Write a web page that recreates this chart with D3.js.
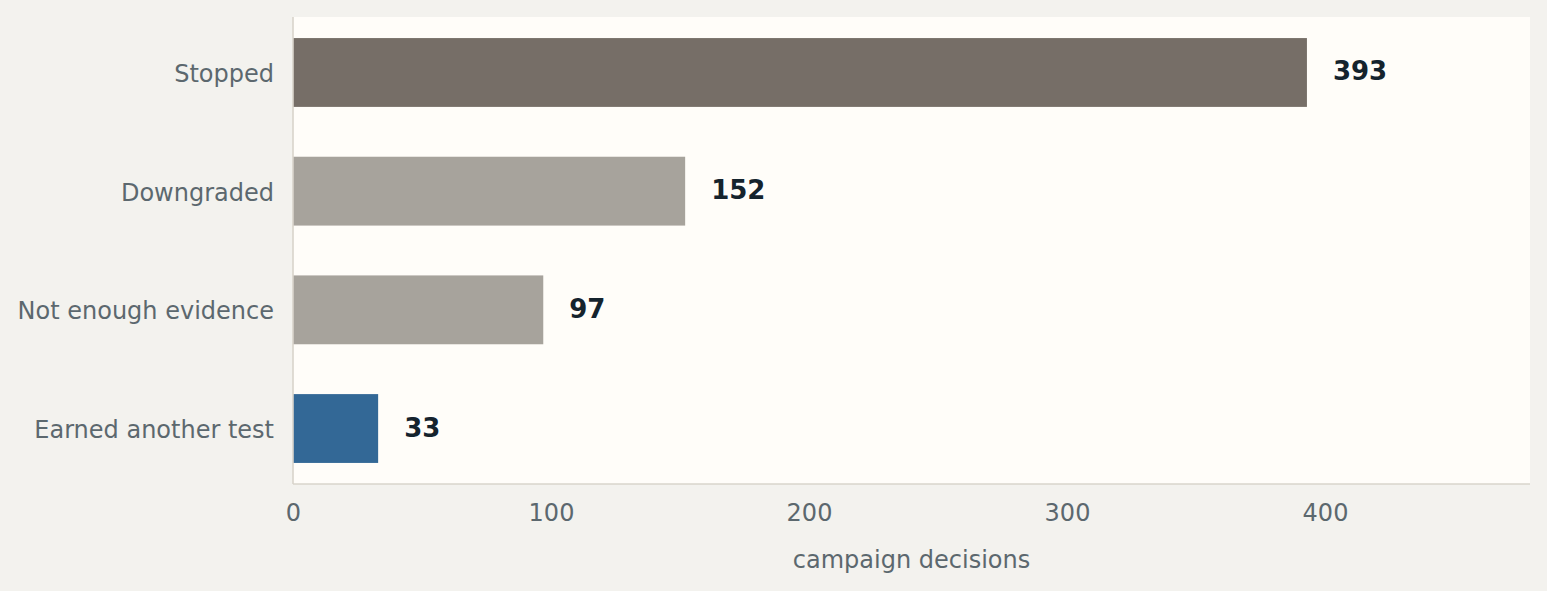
<!DOCTYPE html>
<html>
<head>
<meta charset="utf-8">
<script src="https://cdn.jsdelivr.net/npm/d3@7"></script>
<style>
  html, body { margin: 0; padding: 0; background: #f3f2ee; }
  svg { display: block; font-family: "DejaVu Sans", sans-serif; }
</style>
</head>
<body>
<div id="chart"></div>
<script>
// categories top to bottom
var categories = ["Stopped", "Downgraded", "Not enough evidence", "Earned another test"];
var values = [393, 152, 97, 33];
var barColors = ["#766e67", "#a7a39c", "#a7a39c", "#336896"];
var xTicks = [0, 100, 200, 300, 400];
var xLabel = "campaign decisions";

var width = 1547, height = 591;
var margin = {top: 17, right: 17, bottom: 107, left: 293};
var plotW = width - margin.left - margin.right,
    plotH = height - margin.top - margin.bottom;

var svg = d3.select("#chart")
    .append("svg")
    .attr("width", width)
    .attr("height", height);

svg.append("rect")
    .attr("width", width)
    .attr("height", height)
    .attr("fill", "#f3f2ee");

var g = svg.append("g")
    .attr("transform", "translate(" + margin.left + "," + margin.top + ")");

var x = d3.scaleLinear()
    .domain([0, d3.max(values) * 1.22])
    .range([0, plotW]);

var y = d3.scaleBand()
    .domain(categories)
    .range([0, plotH])
    .paddingInner(0.42)
    .paddingOuter(0.1775);

// plot background
g.append("rect")
    .attr("width", plotW)
    .attr("height", plotH)
    .attr("fill", "#fffdf9");

// bars
g.selectAll(".bar")
    .data(categories)
    .enter()
    .append("rect")
    .attr("class", "bar")
    .attr("x", x(0))
    .attr("y", function(d) { return y(d); })
    .attr("width", function(d, i) { return x(values[i]) - x(0); })
    .attr("height", y.bandwidth())
    .attr("fill", function(d, i) { return barColors[i]; });

// value labels
g.selectAll(".val")
    .data(categories)
    .enter()
    .append("text")
    .attr("class", "val")
    .attr("x", function(d, i) { return x(values[i]) + 26; })
    .attr("y", function(d) { return y(d) + y.bandwidth() / 2 - 1; })
    .attr("dominant-baseline", "central")
    .style("font-size", "26px")
    .style("font-weight", "bold")
    .style("fill", "#15232d")
    .text(function(d, i) { return values[i]; });

// x axis
var xAxis = g.append("g")
    .attr("transform", "translate(0," + plotH + ")")
    .call(d3.axisBottom(x).tickValues(xTicks).tickSize(0).tickPadding(20));
xAxis.select(".domain").remove();
xAxis.selectAll("text")
    .style("font-size", "24px")
    .style("font-family", "DejaVu Sans, sans-serif")
    .style("fill", "#5c686e");

// y axis
var yAxis = g.append("g")
    .call(d3.axisLeft(y).tickSize(0).tickPadding(19));
yAxis.select(".domain").remove();
yAxis.selectAll("text")
    .attr("dy", "0.40em")
    .style("font-size", "24px")
    .style("font-family", "DejaVu Sans, sans-serif")
    .style("fill", "#5c686e");

// spines
g.append("line")
    .attr("x1", 0).attr("x2", 0)
    .attr("y1", 0).attr("y2", plotH)
    .attr("stroke", "#d9d4cb")
    .attr("stroke-width", 1.6);
g.append("line")
    .attr("x1", 0).attr("x2", plotW)
    .attr("y1", plotH).attr("y2", plotH)
    .attr("stroke", "#d9d4cb")
    .attr("stroke-width", 1.6);

// axis title
g.append("text")
    .attr("x", plotW / 2)
    .attr("y", plotH + 76)
    .attr("dominant-baseline", "central")
    .attr("text-anchor", "middle")
    .style("font-size", "24px")
    .style("fill", "#5c686e")
    .text(xLabel);
</script>
</body>
</html>
